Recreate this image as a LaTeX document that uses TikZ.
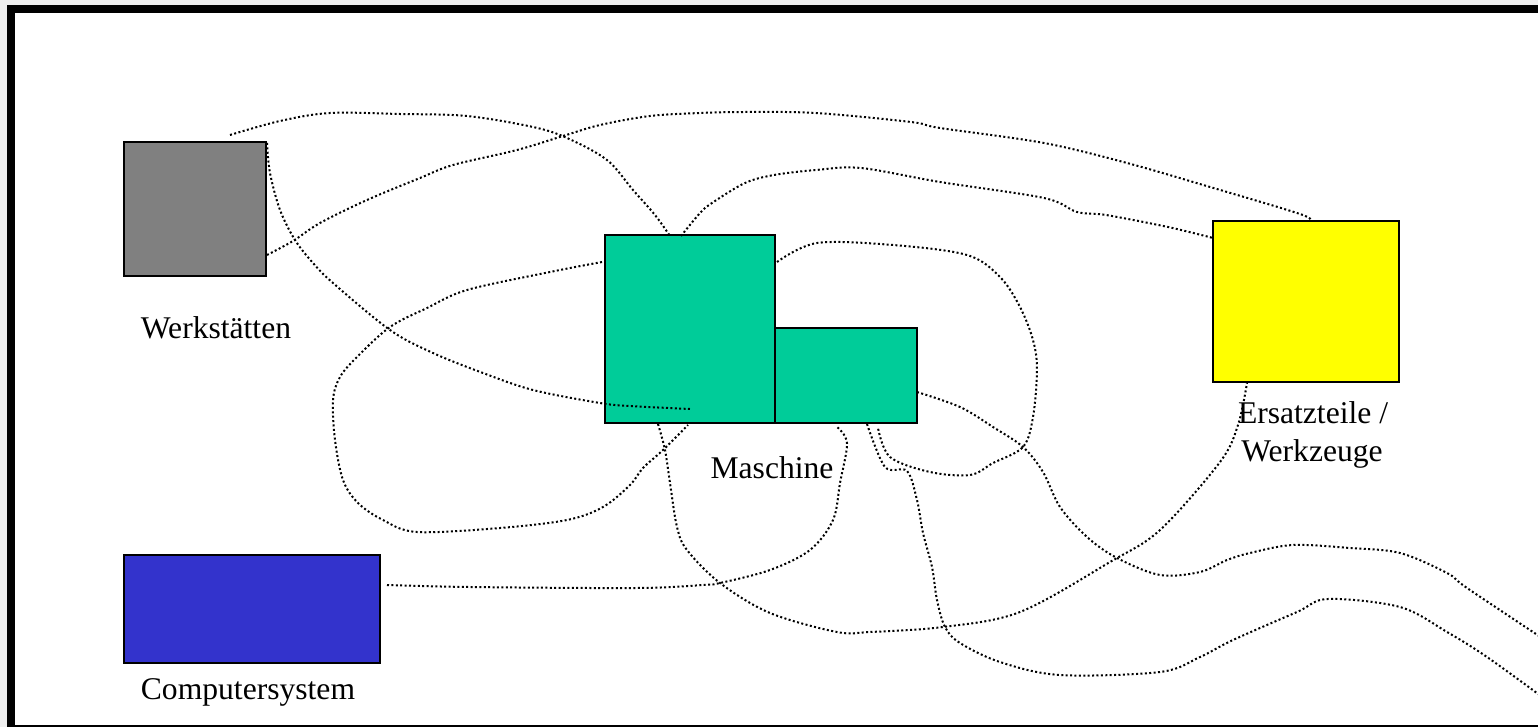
\documentclass[tikz,border=0pt]{standalone}
\usepackage{fontspec}
\setmainfont{Liberation Serif}
\definecolor{wgray}{HTML}{808080}
\definecolor{mgreen}{HTML}{00CC99}
\definecolor{eyellow}{HTML}{FFFF00}
\definecolor{cblue}{HTML}{3333CC}
\definecolor{outerbg}{HTML}{EEEEEE}
\begin{document}
\begin{tikzpicture}[x=1pt,y=-1pt,
  box/.style={draw=black,line width=1.8pt,inner sep=0pt,outer sep=0pt},
  lbl/.style={anchor=base,inner sep=0pt,font=\fontsize{31.6}{38}\selectfont},
  dotline/.style={line width=2pt,dash pattern=on 2pt off 2.4pt,smooth,tension=0.55}]
\useasboundingbox (0,0) rectangle (1538,727);
\fill[outerbg] (0,0) rectangle (1538,727);
\fill[white] (11,9) rectangle (1560,740);

% boxes
\node[box,fill=wgray,minimum width=142,minimum height=134] (werk) at (195,209) {};
\node[box,fill=mgreen,minimum width=170,minimum height=188] (m1) at (690,329) {};
\node[box,fill=mgreen,minimum width=142,minimum height=95] (m2) at (846,375.5) {};
\node[box,fill=eyellow,minimum width=186,minimum height=161] (ers) at (1306,301.5) {};
\node[box,fill=cblue,minimum width=256,minimum height=108] (comp) at (252,609) {};

% labels
\node[lbl] (lwerk) at (216,338) {Werkstätten};
\node[lbl] (lmasch) at (772,478) {Maschine};
\node[lbl] (lers1) at (1313,423) {Ersatzteile /};
\node[lbl] (lers2) at (1312,461) {Werkzeuge};
\node[lbl] (lcomp) at (248,699) {Computersystem};

% curves
\draw[dotline] plot coordinates {(230,135) (280,121) (330,113) (400,114) (467,116) (533,127) (567,138) (607,160) (633,190) (655,215) (670,236)};
\draw[dotline] plot coordinates {(681,236) (700,213) (712,203) (745,183) (774,175) (816,170) (861,168) (940,182) (1044,198) (1077,212) (1106,215) (1168,227) (1213,238)};
\draw[dotline] plot coordinates {(267,255) (293,241) (320,223) (367,200) (420,178) (453,165) (517,150) (563,136) (600,125) (650,116) (700,113) (745,112) (816,113) (911,122) (940,128) (1044,143) (1127,163) (1210,187) (1300,214) (1310,221)};
\draw[dotline] plot coordinates {(267,143) (270,173) (280,210) (295,240) (313,263) (333,283) (390,330) (433,353) (483,373) (533,390) (600,403) (630,406) (690,409)};
\draw[dotline] plot coordinates {(602,262) (550,272) (467,290) (427,308) (390,327) (357,357) (340,377) (333,400) (335,440) (343,480) (358,503) (383,520) (417,532) (500,528) (567,520) (603,507) (630,485) (643,468) (663,450) (688,425)};
\draw[dotline] plot coordinates {(658,424) (665,450) (670,483) (677,527) (687,550) (720,583) (770,613) (837,632) (870,632) (943,627) (1020,612) (1110,562) (1160,530) (1220,462) (1238,425) (1247,383)};
\draw[dotline] plot coordinates {(387,585) (470,587) (637,588) (703,585) (720,583) (770,570) (810,550) (833,520) (840,483) (847,443) (837,427)};
\draw[dotline] plot coordinates {(917,392) (960,407) (993,427) (1023,447) (1043,472) (1060,507) (1087,537) (1117,558) (1160,575) (1200,572) (1227,560) (1250,553) (1293,545) (1350,548) (1400,553) (1447,573) (1467,588) (1545,640)};
\draw[dotline] plot coordinates {(777,262) (817,243) (893,245) (967,255) (1000,277) (1020,307) (1033,340) (1037,370) (1033,417) (1023,447) (993,463) (970,475) (930,472) (890,457) (878,428)};
\draw[dotline] plot coordinates {(867,424) (885,467) (907,471) (917,500) (923,533) (932,567) (937,600) (945,627) (960,643) (1000,662) (1060,675) (1160,672) (1200,657) (1233,640) (1297,612) (1328,599) (1400,607) (1447,632) (1487,657) (1545,699)};

% frame
\draw[line width=8pt] (11,9) rectangle (1560,729);
\end{tikzpicture}
\end{document}
